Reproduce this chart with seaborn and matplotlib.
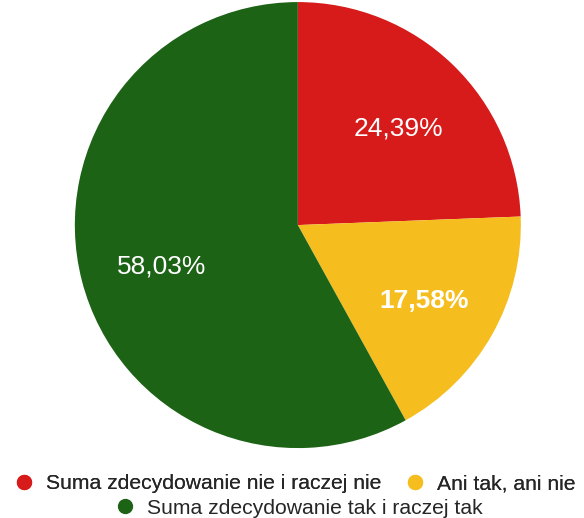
import matplotlib
matplotlib.use("Agg")
import matplotlib.pyplot as plt
import matplotlib.transforms as mtransforms
import seaborn as sns
from matplotlib.lines import Line2D

# data
categories = ["Suma zdecydowanie nie i raczej nie", "Ani tak, ani nie", "Suma zdecydowanie tak i raczej tak"]
values = [24.39, 17.58, 58.03]
colors = ["#D71A1A", "#F5BE1E", "#1D6316"]
bold_label = [False, True, False]

sns.set_theme(style="white")
plt.rcParams['font.family'] = ['Liberation Sans', 'DejaVu Sans']

fig = plt.figure(figsize=(5.84, 5.18), dpi=100)
ax = fig.add_axes([0.128, 0.135, 0.764, 0.861])

wedges, texts, autotexts = ax.pie(
    values, colors=sns.color_palette(colors), startangle=90, counterclock=False,
    autopct=lambda p: f"{p:.2f}%".replace(".", ","), pctdistance=0.64,
    wedgeprops=dict(linewidth=0), radius=1.0)
# labels sit a little lower in the original
shift = mtransforms.offset_copy(ax.transData, fig=fig, x=2, y=-6, units="dots")
for t, b in zip(autotexts, bold_label):
    t.set_color("white")
    t.set_fontsize(19)
    t.set_transform(shift)
    if b:
        t.set_fontweight("bold")
ax.set_aspect("equal")
ax.set_xlim(-1.0, 1.0)
ax.set_ylim(-1.0, 1.0)

def handle(c):
    return Line2D([0], [0], marker="o", linestyle="", markersize=10,
                  markerfacecolor=c, markeredgecolor=c)

leg_kw = dict(frameon=False, fontsize=15.2, handlelength=0.7, handletextpad=0.7,
              borderpad=0, borderaxespad=0)
leg1 = fig.legend([handle(colors[0]), handle(colors[1])], categories[:2], ncol=2,
                  loc="center", bbox_to_anchor=(0.507, 0.066), columnspacing=1.2, **leg_kw)
fig.add_artist(leg1)
fig.legend([handle(colors[2])], categories[2:], loc="center",
           bbox_to_anchor=(0.514, 0.019), **leg_kw)

fig.savefig("out.png", dpi=100)
